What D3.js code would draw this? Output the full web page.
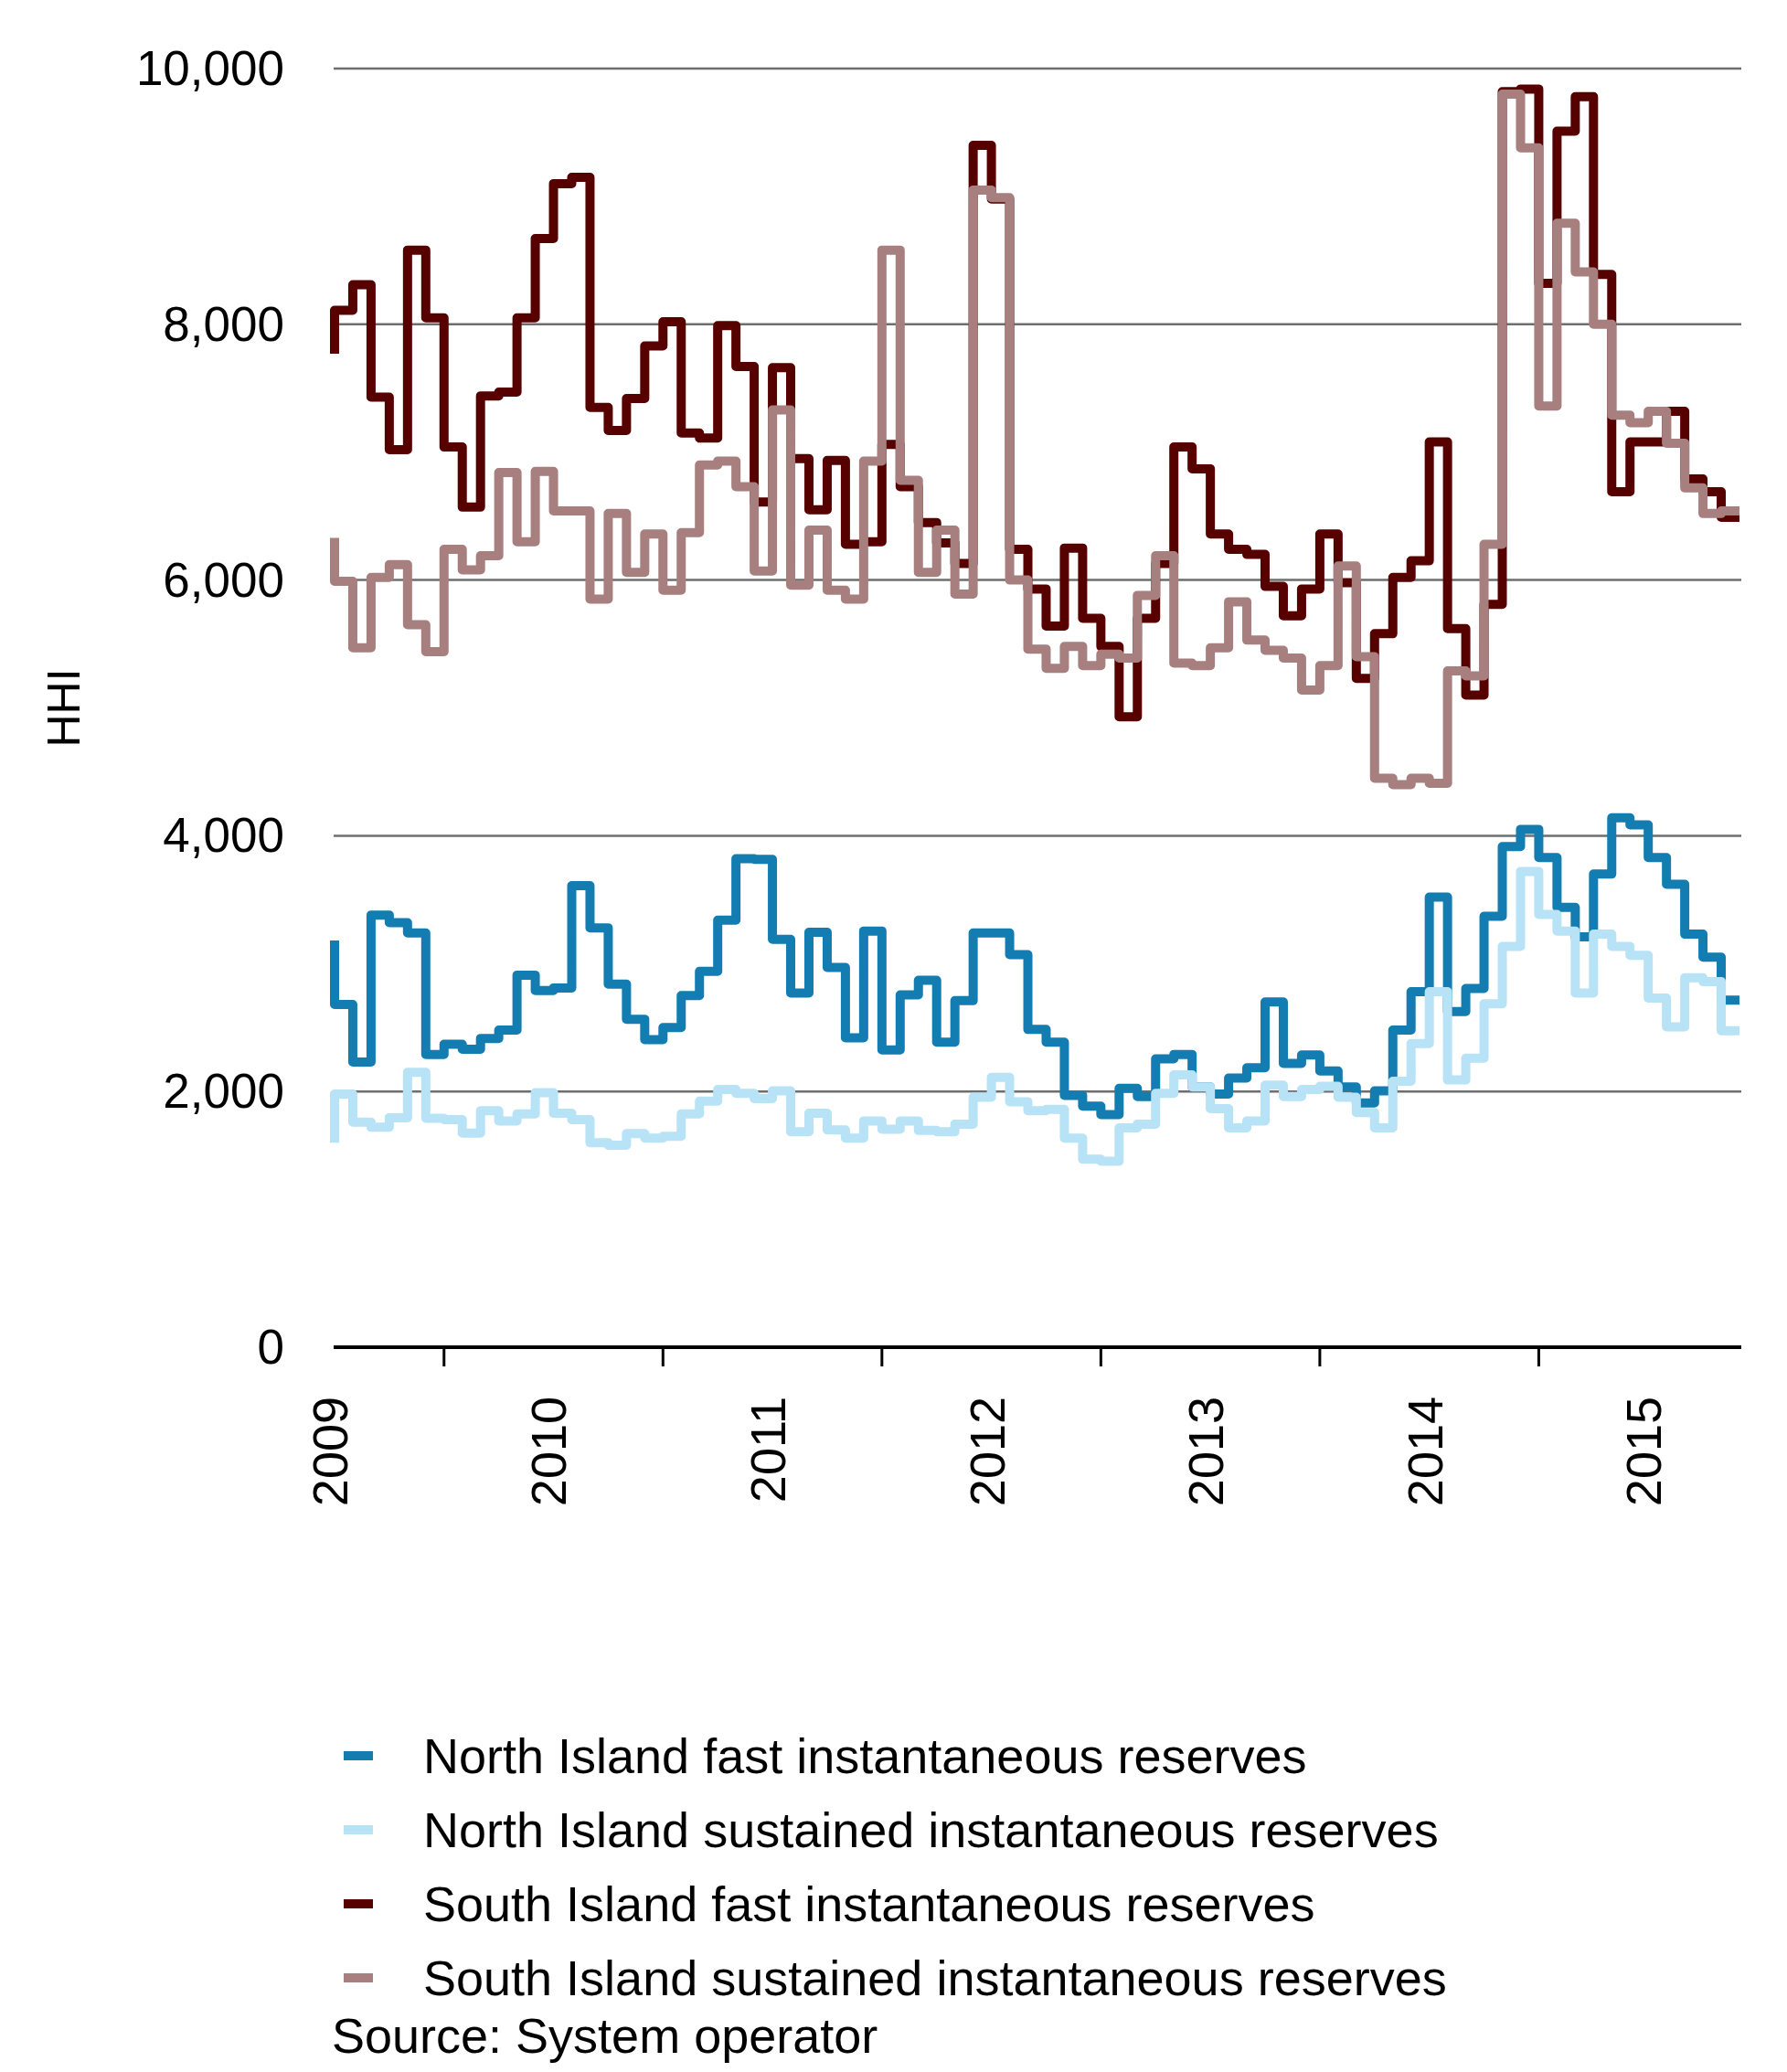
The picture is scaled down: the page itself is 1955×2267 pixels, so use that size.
<!DOCTYPE html>
<html>
<head>
<meta charset="utf-8">
<script src="https://cdn.jsdelivr.net/npm/d3@7"></script>
<style>
  html, body { margin: 0; padding: 0; background: #ffffff; }
  svg { display: block; font-family: "Liberation Sans", Arial, sans-serif; }
</style>
</head>
<body>
<svg id="chart" width="1955" height="2267"></svg>
<script>
// ---- Data (monthly HHI, step series; first value is the starting point) ----
const yearLabels = ["2009", "2010", "2011", "2012", "2013", "2014", "2015"];
const yTickValues = [0, 2000, 4000, 6000, 8000, 10000];
const seriesNames = [
  "North Island fast instantaneous reserves",
  "North Island sustained instantaneous reserves",
  "South Island fast instantaneous reserves",
  "South Island sustained instantaneous reserves"
];
const seriesColors = ["#137cb1", "#b8e2f6", "#560000", "#a67f7e"];

const northFast = [
  3180, 2680, 2230, 3380, 3320, 3240, 2290, 2370, 2330, 2415, 2480, 2910, 2790, 2810, 3610, 3280,
  2840, 2565, 2405, 2500, 2750, 2940, 3340, 3820, 3815, 3190, 2770, 3245, 2970, 2420, 3255, 2325,
  2755, 2870, 2385, 2710, 3240, 3240, 3070, 2485, 2385, 1970, 1885, 1820, 2025, 1960, 2255, 2290,
  2035, 1980, 2105, 2185, 2700, 2220, 2285, 2160, 2035, 1910, 2005, 2480, 2780, 3520, 2625, 2805,
  3370, 3915, 4050, 3830, 3440, 3210, 3700, 4140, 4085, 3830, 3620, 3230, 3050, 2715
];
const northSustained = [
  1600, 1980, 1760, 1720, 1795, 2150, 1790, 1780, 1675, 1850, 1770, 1825, 1990, 1830, 1780, 1600,
  1580, 1670, 1635, 1650, 1825, 1925, 2015, 1985, 1945, 2005, 1685, 1830, 1700, 1635, 1770, 1705,
  1770, 1695, 1685, 1745, 1955, 2110, 1920, 1850, 1860, 1635, 1470, 1455, 1715, 1745, 1985, 2130,
  2035, 1865, 1715, 1770, 2050, 1960, 2015, 2040, 1955, 1835, 1715, 2080, 2375, 2780, 2090, 2260,
  2685, 3135, 3720, 3385, 3255, 2770, 3230, 3135, 3065, 2730, 2505, 2890, 2860, 2475
];
const southFast = [
  7770, 8110, 8310, 7430, 7020, 8580, 8050, 7040, 6570, 7440, 7470, 8050, 8670, 9100, 9150, 7350,
  7170, 7420, 7830, 8020, 7150, 7110, 7990, 7670, 6610, 7660, 6950, 6550, 6935, 6280, 6300, 7060,
  6730, 6450, 6290, 6130, 9400, 8980, 6240, 5930, 5640, 6250, 5700, 5480, 4930, 5700, 6130, 7040,
  6870, 6360, 6240, 6200, 5950, 5720, 5930, 6360, 5980, 5230, 5580, 6020, 6150, 7080, 5620, 5100,
  5810, 9820, 9840, 8320, 9510, 9780, 8390, 6690, 7080, 7080, 7320, 6790, 6690, 6490
];
const southSustained = [
  6330, 5990, 5470, 6020, 6120, 5650, 5440, 6240, 6080, 6190, 6840, 6300, 6850, 6540, 6540, 5850,
  6520, 6060, 6360, 5920, 6370, 6900, 6930, 6730, 6070, 7330, 5960, 6390, 5920, 5850, 6930, 8580,
  6780, 6060, 6390, 5890, 9050, 8990, 6000, 5460, 5310, 5480, 5330, 5420, 5390, 5880, 6190, 5350,
  5330, 5470, 5830, 5530, 5450, 5390, 5140, 5330, 6110, 5400, 4450, 4400, 4450, 4410, 5290, 5250,
  6280, 9800, 9380, 7360, 8790, 8410, 8000, 7290, 7230, 7320, 7070, 6720, 6520, 6540
];
const seriesData = [northFast, northSustained, southFast, southSustained];

// ---- Layout ----
const svg = d3.select("#chart");
const FONT = 53;
const LEGEND_FONT = 54;
const plot = { left: 366, right: 1903, top: 75, bottom: 1474 };

const x = d3.scaleLinear().domain([0, northFast.length - 1]).range([plot.left, plot.right]);
const y = d3.scaleLinear().domain([0, 10000]).range([plot.bottom, plot.top]);

svg.append("rect").attr("width", 1955).attr("height", 2267).attr("fill", "#ffffff");

// Gridlines
svg.append("g").selectAll("line")
  .data(yTickValues.filter(v => v > 0))
  .join("line")
  .attr("x1", plot.left - 1).attr("x2", plot.right + 2)
  .attr("y1", d => y(d)).attr("y2", d => y(d))
  .attr("stroke", "#6e6e6e").attr("stroke-width", 2.5);

// Y tick labels
svg.append("g").selectAll("text")
  .data(yTickValues)
  .join("text")
  .attr("x", 311).attr("y", d => y(d) + 18)
  .attr("text-anchor", "end")
  .attr("font-size", FONT)
  .attr("fill", "#000")
  .text(d => d3.format(",")(d));

// Y axis title
svg.append("text")
  .attr("transform", `translate(69,${(plot.top + plot.bottom) / 2}) rotate(-90)`)
  .attr("text-anchor", "middle")
  .attr("dy", "0.35em")
  .attr("font-size", 50)
  .text("HHI");

// Series lines (step)
const line = d3.line()
  .x((d, i) => x(i))
  .y(d => y(d))
  .curve(d3.curveStepBefore);

svg.append("g").selectAll("path")
  .data(seriesData)
  .join("path")
  .attr("d", d => line(d))
  .attr("fill", "none")
  .attr("stroke", (d, i) => seriesColors[i])
  .attr("stroke-width", 10)
  .attr("stroke-linejoin", "round");

// X axis line
svg.append("line")
  .attr("x1", plot.left - 1).attr("x2", plot.right + 2)
  .attr("y1", y(0)).attr("y2", y(0))
  .attr("stroke", "#000").attr("stroke-width", 4);

// X ticks (mid-year)
const tickIdx = d3.range(6, northFast.length, 12);
svg.append("g").selectAll("line")
  .data(tickIdx)
  .join("line")
  .attr("x1", d => x(d)).attr("x2", d => x(d))
  .attr("y1", y(0)).attr("y2", y(0) + 21)
  .attr("stroke", "#000").attr("stroke-width", 3);

// X labels (rotated)
svg.append("g").selectAll("text")
  .data(yearLabels)
  .join("text")
  .attr("transform", (d, i) => `translate(${x(i * 12) - 5},1528) rotate(-90)`)
  .attr("text-anchor", "end")
  .attr("dy", "0.35em")
  .attr("font-size", 54)
  .attr("fill", "#000")
  .text(d => d);

// Legend
const legendTop = 1921, legendStep = 81;
const lg = svg.append("g").selectAll("g")
  .data(seriesNames)
  .join("g")
  .attr("transform", (d, i) => `translate(0,${legendTop + i * legendStep})`);
lg.append("rect")
  .attr("x", 376).attr("y", -5).attr("width", 32).attr("height", 10)
  .attr("fill", (d, i) => seriesColors[i]);
lg.append("text")
  .attr("x", 463).attr("y", 19)
  .attr("font-size", LEGEND_FONT)
  .attr("fill", "#000")
  .text(d => d);

// Source
svg.append("text")
  .attr("x", 363).attr("y", 2246)
  .attr("font-size", LEGEND_FONT)
  .attr("fill", "#000")
  .text("Source: System operator");
</script>
</body>
</html>
